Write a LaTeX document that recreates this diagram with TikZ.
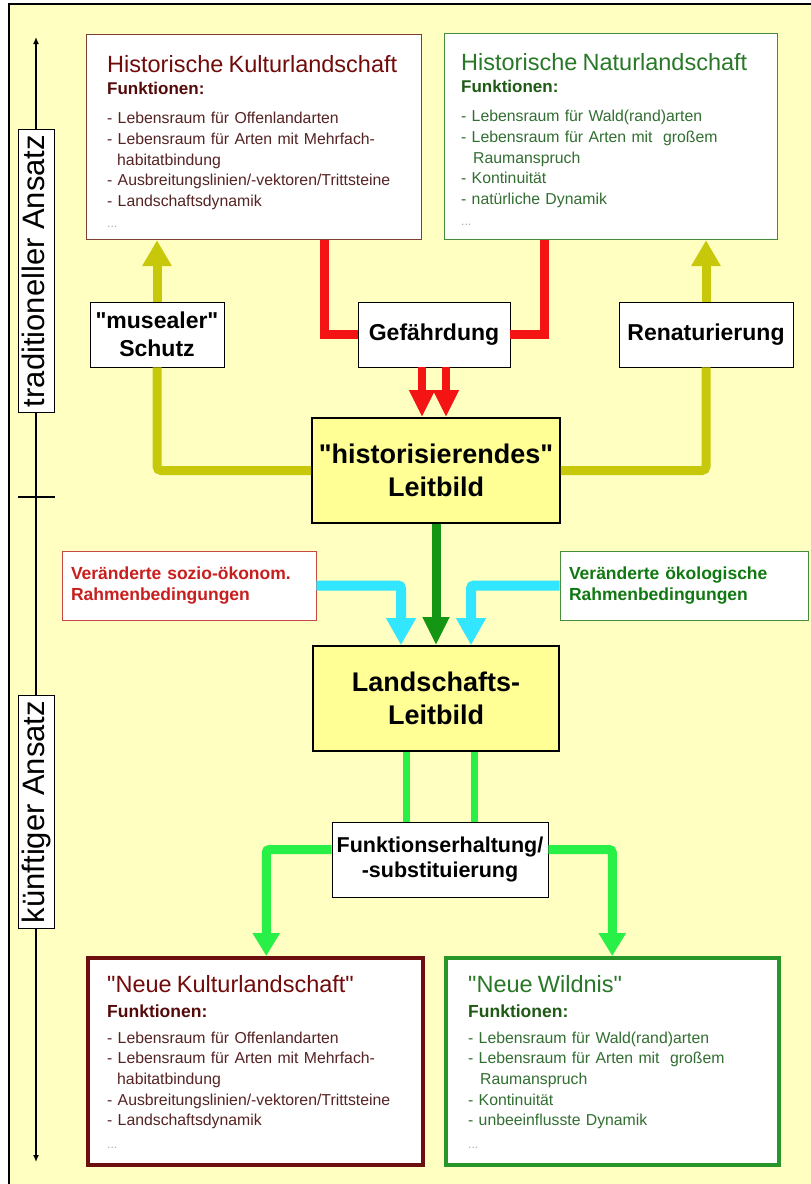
\documentclass[tikz,border=0pt]{standalone}
\usepackage{fontspec}
\setmainfont{Liberation Sans}
\usetikzlibrary{arrows.meta}

\definecolor{paper}{RGB}{255,255,194}
\definecolor{leitfill}{RGB}{255,255,150}
\definecolor{olivec}{RGB}{200,200,10}
\definecolor{redc}{RGB}{245,20,20}
\definecolor{dgreenc}{RGB}{20,150,20}
\definecolor{cyanc}{RGB}{50,230,255}
\definecolor{bgreenc}{RGB}{40,240,70}
\definecolor{kultitle}{RGB}{115,10,10}
\definecolor{kulhead}{RGB}{85,10,10}
\definecolor{kullist}{RGB}{85,35,35}
\definecolor{kulline}{RGB}{125,65,50}
\definecolor{kulthick}{RGB}{110,15,15}
\definecolor{nattitle}{RGB}{40,120,40}
\definecolor{nathead}{RGB}{30,90,20}
\definecolor{natlist}{RGB}{50,110,50}
\definecolor{natline}{RGB}{70,140,60}
\definecolor{natthick}{RGB}{40,150,40}
\definecolor{dots}{RGB}{170,170,170}
\definecolor{sozred}{RGB}{200,30,30}
\definecolor{sozline}{RGB}{200,70,70}

\begin{document}
\begin{tikzpicture}[x=1pt,y=-1pt]
    \tikzset{infobox/.style = {draw, fill=white, line width=1.2pt, minimum width=335pt, minimum height=205pt, anchor=north west, inner sep=0pt}}
    \tikzset{infotext/.style = {anchor=north west, inner sep=0pt, align=left, text width=312pt, font=\fontsize{15.8}{20.7}\selectfont}}
    \tikzset{tag/.style = {draw, fill=white, line width=0.8pt, inner xsep=2pt, font=\bfseries\fontsize{23}{28}\selectfont, align=center, minimum height=65pt}}
    \tikzset{leit/.style = {draw, fill=leitfill, line width=1.6pt, inner xsep=3pt, font=\bfseries\fontsize{27}{33}\selectfont, align=center, minimum height=105pt}}
    \tikzset{cond/.style = {draw, fill=white, line width=0.8pt, inner xsep=9pt, font=\bfseries\fontsize{17.5}{21}\selectfont, align=left, minimum height=69pt}}
    \tikzset{axislabel/.style = {draw, fill=white, line width=0.8pt, rotate=90, font=\fontsize{31}{31}\selectfont, text height=23pt, text depth=7pt, inner xsep=5pt, inner ysep=3pt}}
    \tikzset{oline/.style = {draw=olivec, line width=9pt, rounded corners=4pt}}
    \tikzset{oarrow/.style = {oline, -{Triangle[width=28pt,length=26pt]}}}
    \tikzset{rline/.style = {draw=redc, line width=9pt}}
    \tikzset{rarrow/.style = {draw=redc, line width=8pt, -{Triangle[width=24pt,length=27pt]}}}
    \tikzset{darrow/.style = {draw=dgreenc, line width=9pt, -{Triangle[width=25pt,length=28pt]}}}
    \tikzset{carrow/.style = {draw=cyanc, line width=10pt, rounded corners=3pt, -{Triangle[width=28pt,length=27pt]}}}
    \tikzset{gline/.style = {draw=bgreenc, line width=7pt}}
    \tikzset{garrow/.style = {draw=bgreenc, line width=9pt, rounded corners=3pt, -{Triangle[width=26pt,length=23pt]}}}

    \useasboundingbox (0,0) rectangle (811,1184);
    % sheet
    \fill[white] (0,0) rectangle (811,1184);
    \fill[paper] (9,4) rectangle (811,1184);
    \draw[line width=1.2pt] (9,1184) -- (9,4) -- (811,4);

    % axis
    \coordinate (axtop) at (36,37);
    \coordinate (axbot) at (36,1162);
    \draw[line width=1.8pt, {Latex[length=7pt,width=6pt]}-{Latex[length=7pt,width=6pt]}] (axbot) -- (axtop);
    \draw[line width=1.5pt] (18,497) -- (55,497);
    \node[axislabel] (trad) at (36,271) {traditioneller Ansatz};
    \node[axislabel] (kuenf) at (36,812) {künftiger Ansatz};

    % landscapes
    \node[infobox, draw=kulline] (hk) at (86,34) {};
    \node[infotext, text=kullist] (hktext) at (107,55) {%
        {\fontsize{23.5}{23}\selectfont\color{kultitle}Historische Kulturlandschaft}\\[2pt]
        {\bfseries\fontsize{17}{20}\selectfont\color{kulhead}Funktionen:}\\[8pt]
        - Lebensraum für Offenlandarten\\
        - Lebensraum für Arten mit Mehrfach-\\
        \hspace*{10pt}habitatbindung\\
        - Ausbreitungslinien/-vektoren/Trittsteine\\
        - Landschaftsdynamik\\
        {\fontsize{12}{12}\selectfont\color{dots}...}};
    \node[infobox, draw=natline, minimum width=333pt, minimum height=206pt] (hn) at (444,33) {};
    \node[infotext, text=natlist] (hntext) at (461,53) {%
        {\fontsize{23.5}{23}\selectfont\color{nattitle}Historische Naturlandschaft}\\[2pt]
        {\bfseries\fontsize{17}{20}\selectfont\color{nathead}Funktionen:}\\[8pt]
        - Lebensraum für Wald(rand)arten\\
        - Lebensraum für Arten mit\ \ großem\\
        \hspace*{12pt}Raumanspruch\\
        - Kontinuität\\
        - natürliche Dynamik\\
        {\fontsize{12}{12}\selectfont\color{dots}...}};
    \node[infobox, draw=kulthick, line width=3.5pt, minimum height=207pt] (nk) at (86,956) {};
    \node[infotext, text=kullist] (nktext) at (107,975) {%
        {\fontsize{23.5}{23}\selectfont\color{kultitle}\textquotedbl Neue Kulturlandschaft\textquotedbl}\\[4.5pt]
        {\bfseries\fontsize{17.5}{20}\selectfont\color{kulhead}Funktionen:}\\[5pt]
        - Lebensraum für Offenlandarten\\
        - Lebensraum für Arten mit Mehrfach-\\
        \hspace*{10pt}habitatbindung\\
        - Ausbreitungslinien/-vektoren/Trittsteine\\
        - Landschaftsdynamik\\[2pt]
        {\fontsize{12}{12}\selectfont\color{dots}...}};
    \node[infobox, draw=natthick, line width=3.5pt, minimum width=333pt, minimum height=207pt] (nw) at (444,956) {};
    \node[infotext, text=natlist] (nwtext) at (468,975) {%
        {\fontsize{23.5}{23}\selectfont\color{nattitle}\textquotedbl Neue Wildnis\textquotedbl}\\[4.5pt]
        {\bfseries\fontsize{17.5}{20}\selectfont\color{nathead}Funktionen:}\\[5pt]
        - Lebensraum für Wald(rand)arten\\
        - Lebensraum für Arten mit\ \ großem\\
        \hspace*{12pt}Raumanspruch\\
        - Kontinuität\\
        - unbeeinflusste Dynamik\\[2pt]
        {\fontsize{12}{12}\selectfont\color{dots}...}};

    % steps
    \node[tag, minimum width=134pt] (museal) at (157,334.5) {\textquotedbl musealer\textquotedbl\\Schutz};
    \node[tag, minimum width=152pt] (gef) at (434,334.5) {Gefährdung};
    \node[tag, minimum width=174pt] (renat) at (706,334.5) {Renaturierung};
    \node[leit, minimum width=248pt] (hl) at (436,470.5) {\textquotedbl historisierendes\textquotedbl\\Leitbild};
    \node[cond, draw=sozline, text=sozred, text width=236pt] (sozio) at (189,585.5) {Veränderte sozio-ökonom.\\Rahmenbedingungen};
    \node[cond, draw=natline, text=dgreenc!80!black, text width=230pt] (oeko) at (684,585.5) {Veränderte ökologische\\Rahmenbedingungen};
    \node[leit, minimum width=246pt] (ll) at (436,698.5) {Landschafts-\\Leitbild};
    \node[tag, font=\bfseries\fontsize{21.5}{25}\selectfont, minimum width=216pt, minimum height=75pt] (fe) at (440,859.5) {Funktionserhaltung/\\-substituierung};

    %edges
    \draw[oline] (hl.west) -| (museal.south);
    \draw[oarrow] (museal.north) -- (museal.north |- hk.south);
    \draw[oline] (hl.east) -| (renat.south);
    \draw[oarrow] (renat.north) -- (renat.north |- hn.south);

    \draw[rline] ([xshift=70.5pt]hk.south) |- (gef.west);
    \draw[rline] (gef.east) -| ([xshift=-67pt]hn.south);
    \draw[rarrow] ([xshift=-12pt]gef.south) -- ([xshift=-12pt]gef.south |- hl.north);
    \draw[rarrow] ([xshift=12pt]gef.south) -- ([xshift=12pt]gef.south |- hl.north);

    \draw[darrow] (hl.south) -- (ll.north);
    \draw[carrow] (sozio.east) -| ([xshift=-35pt]ll.north);
    \draw[carrow] (oeko.west) -| ([xshift=35pt]ll.north);

    \draw[gline] ([xshift=-34pt]fe.north |- ll.south) -- ([xshift=-34pt]fe.north);
    \draw[gline] ([xshift=34pt]fe.north |- ll.south) -- ([xshift=34pt]fe.north);
    \draw[garrow] ([yshift=10pt]fe.west) -| ([xshift=11pt]nk.north);
    \draw[garrow] ([yshift=10pt]fe.east) -| (nw.north);
\end{tikzpicture}
\end{document}
